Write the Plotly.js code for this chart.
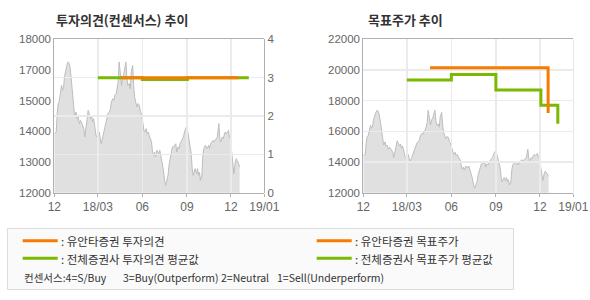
<!DOCTYPE html>
<html>
<head>
<meta charset="utf-8">
<script src="https://cdn.plot.ly/plotly-3.0.1.min.js"></script>
<style>
html,body{margin:0;padding:0;background:#fff;}
#chart{width:590px;height:300px;}
</style>
</head>
<body>
<div id="chart"></div>
<script>
// ---- data ----
const xTickVals = ['2017-12-01','2018-03-01','2018-06-01','2018-09-01','2018-12-01','2019-02-08'];
const xTickText = ['12','18/03','06','09','12','19/01'];
const xRange = ['2017-12-01','2019-02-08'];

// stock price (days since 2017-12-01)
const priceDays = [0,4,6,8,10,13,15,17,19,21,24,26,28,31,33,35,38,40,42,45,47,49,52,54,56,59,61,63,65,68,
70,72,75,77,79,81,83,86,88,90,93,95,97,100,102,104,107,109,111,114,116,118,121,123,125,128,130,132,134,137,
139,141,143,145,148,150,152,155,157,159,162,164,166,169,171,173,176,178,180,183,185,187,190,192,194,196,199,201,
203,205,207,209,212,214,216,218,221,223,225,228,230,232,235,237,239,242,244,246,249,251,253,256,258,260,263,265,267,269,
271,274,276,278,280,283,285,287,289,291,294,296,298,300,302,305,307,309,312,314,316,319,321,323,326,328,330,333,335,337,
340,342,344,347,349,351,353,356,358,360,362,364,367,369,371,374,376,378,381,383];
const priceValues = [14420,14490,15250,15660,15730,16270,16410,16200,16270,16750,17160,17230,17370,17300,17090,16550,16140,15590,15110,15310,
15040,15110,14840,14970,14900,14770,14630,14290,14700,15040,15380,15250,15040,15180,14900,15040,14840,14360,14290,14490,
14490,14220,14010,14290,14490,14560,14900,15110,15250,15310,15450,15730,15860,15790,16000,16070,16270,16550,17370,16750,
16410,16750,16820,17030,17370,16680,16410,16480,16270,16960,17230,16410,15930,15660,15520,15660,15590,15310,15250,14900,
14560,14490,14630,14420,14490,14360,14220,14080,
13670,13530,13670,13470,13740,13670,13600,13740,13400,13330,12990,12510,12300,12440,12710,13120,13400,13810,13880,13880,
13950,14010,13670,13880,13810,14010,14150,14220,14290,14490,14630,14770,14490,14220,13950,13600,12990,12710,12850,12990,
12780,12990,12710,12850,12510,12710,13530,13810,13950,13880,13810,13950,13810,14010,14080,14150,14080,14150,14220,14290,
14840,14220,14080,14290,14220,14360,14490,14420,14490,14560,14290,14220,13600,12990,12780,13260,13400,13330,13190,13060];

// investment opinion (consensus scale 0-4)
const opinionYuantaDates = ['2018-04-18','2018-12-17'];
const opinionYuantaValues = [3,3];
const opinionAvgDates = ['2018-03-01','2018-06-01','2018-06-01','2018-09-02','2018-09-02','2019-01-07'];
const opinionAvgValues = [3,3,2.95,2.95,3,3];

// target price
const targetYuantaDates = ['2018-04-18','2018-12-18','2018-12-18'];
const targetYuantaValues = [20150,20150,17200];
const targetAvgDates = ['2018-03-01','2018-06-01','2018-06-01','2018-09-01','2018-09-01','2018-12-03','2018-12-03','2019-01-07','2019-01-07'];
const targetAvgValues = [19350,19350,19700,19700,18700,18700,17700,17700,16500];

// axis ticks
const leftPriceTickVals = [12000,13260,14520,15780,17040,18300];
const leftPriceTickText = ['12000','13000','14000','15000','17000','18000'];
const opinionTicks = [0,1,2,3,4];
const targetTickVals = [12000,14000,16000,18000,20000,22000];
const targetTickText = ['12000','14000','16000','18000','20000','22000'];

const titleLeft = '투자의견(컨센서스) 추이';
const titleRight = '목표주가 추이';
const legendLabels = [': 유안타증권 투자의견', ': 전체증권사 투자의견 평균값', ': 유안타증권 목표주가', ': 전체증권사 목표주가 평균값'];
const consensusLabels = ['컨센서스:4=S/Buy', '3=Buy(Outperform)', '2=Neutral', '1=Sell(Underperform)'];

// ---- helpers ----
const base = Date.UTC(2017, 11, 1);
function dayToDate(d){ return new Date(base + d*86400000).toISOString().slice(0,10); }
const priceDates = priceDays.map(dayToDate);

const W = 590, H = 300;
const px = v => v / W;
const py = v => 1 - v / H;

const ORANGE = '#f77b00';
const GREEN = '#7bb800';
const FONT = 'Noto Sans CJK KR, Liberation Sans, sans-serif';
const TFONT = 'Liberation Sans, Arial, sans-serif';
const AXC = '#b0b0b0';
const GRID = '#ebebeb';
const LBL = '#666666';

const domLeft = [px(54.3), px(264.3)];
const domRight = [px(363.3), px(573.3)];
const domY = [1 - 192.7/H, 1 - 39.3/H];

const areaStyle = {type:'scatter', mode:'lines', line:{color:'#bdbdbd', width:1}, fill:'tozeroy', fillcolor:'#e0e0e0', hoverinfo:'skip'};

const traces = [
  Object.assign({x: priceDates, y: priceValues, xaxis:'x', yaxis:'y'}, areaStyle),
  {type:'scatter', mode:'lines', x: opinionAvgDates, y: opinionAvgValues, xaxis:'x2', yaxis:'y2', line:{color:GREEN, width:3}},
  {type:'scatter', mode:'lines', x: opinionYuantaDates, y: opinionYuantaValues, xaxis:'x2', yaxis:'y2', line:{color:ORANGE, width:3}},
  Object.assign({x: priceDates, y: priceValues, xaxis:'x3', yaxis:'y3'}, areaStyle),
  {type:'scatter', mode:'lines', x: targetAvgDates, y: targetAvgValues, xaxis:'x4', yaxis:'y4', line:{color:GREEN, width:3}},
  {type:'scatter', mode:'lines', x: targetYuantaDates, y: targetYuantaValues, xaxis:'x4', yaxis:'y4', line:{color:ORANGE, width:3}}
];

function baseX(dom, anchor){
  return {type:'date', domain:dom, anchor:anchor, range:xRange, tickmode:'array', tickvals:xTickVals, ticktext:xTickText,
    showgrid:false, zeroline:false, showline:true, linecolor:AXC, linewidth:1, mirror:true,
    ticks:'outside', ticklen:3, tickcolor:AXC, tickfont:{family:TFONT, size:12, color:LBL}, fixedrange:true};
}
function gridX(dom, anchor){
  return {type:'date', domain:dom, anchor:anchor, range:xRange, tickmode:'array', tickvals:xTickVals.slice(1,5),
    showticklabels:false, showgrid:true, gridcolor:GRID, gridwidth:1.5, zeroline:false, showline:false, ticks:'', fixedrange:true};
}

const layout = {
  width: W, height: H, autosize:false,
  margin:{l:0, r:0, t:0, b:0, pad:0},
  paper_bgcolor:'#ffffff', plot_bgcolor:'rgba(0,0,0,0)',
  showlegend:false,
  font:{family:FONT, color:LBL},
  xaxis: baseX(domLeft, 'y'),
  yaxis: {domain:domY, anchor:'x', range:[12000,18300], tickmode:'array', tickvals:leftPriceTickVals, ticktext:leftPriceTickText,
    showgrid:false, zeroline:false, showline:true, linecolor:AXC, linewidth:1, ticks:'', tickfont:{family:TFONT, size:11.5, color:LBL}, fixedrange:true},
  xaxis2: gridX(domLeft, 'y2'),
  yaxis2: {domain:domY, anchor:'x2', side:'right', range:[0,4], tickmode:'array', tickvals:opinionTicks,
    showgrid:true, gridcolor:GRID, gridwidth:1.5, zeroline:false, showline:true, linecolor:AXC, linewidth:1, ticks:'',
    tickfont:{family:TFONT, size:11.5, color:LBL}, fixedrange:true},
  xaxis3: baseX(domRight, 'y3'),
  yaxis3: {domain:domY, anchor:'x3', range:[12000,22000], tickmode:'array', tickvals:targetTickVals, ticktext:targetTickText,
    showgrid:false, zeroline:false, showline:true, linecolor:AXC, linewidth:1, ticks:'', tickfont:{family:TFONT, size:11.5, color:LBL}, fixedrange:true},
  xaxis4: gridX(domRight, 'y4'),
  yaxis4: {domain:domY, anchor:'x4', side:'right', range:[12000,22000], tickmode:'array', tickvals:targetTickVals,
    showticklabels:false, showgrid:true, gridcolor:GRID, gridwidth:1.5, zeroline:false, showline:true, linecolor:'#e6e6e6', linewidth:1, ticks:'', fixedrange:true},
  shapes: [
    {type:'rect', xref:'paper', yref:'paper', x0:px(7.5), x1:px(513.5), y0:py(289.5), y1:py(228.5), line:{color:'#dcdcdc', width:1}, fillcolor:'#fafafa', layer:'below'},
    {type:'line', xref:'paper', yref:'paper', x0:px(22.7), x1:px(57.7), y0:py(240.7), y1:py(240.7), line:{color:ORANGE, width:3}},
    {type:'line', xref:'paper', yref:'paper', x0:px(22.7), x1:px(57.7), y0:py(258.3), y1:py(258.3), line:{color:GREEN, width:3}},
    {type:'line', xref:'paper', yref:'paper', x0:px(316.7), x1:px(351.7), y0:py(240.7), y1:py(240.7), line:{color:ORANGE, width:3}},
    {type:'line', xref:'paper', yref:'paper', x0:px(316.7), x1:px(351.7), y0:py(258.3), y1:py(258.3), line:{color:GREEN, width:3}}
  ],
  annotations: [
    {text:'<b>'+titleLeft+'</b>', xref:'paper', yref:'paper', x:px(54), y:py(20), xanchor:'left', yanchor:'middle', showarrow:false, font:{family:FONT, size:13, color:'#333333'}},
    {text:'<b>'+titleRight+'</b>', xref:'paper', yref:'paper', x:px(366), y:py(20), xanchor:'left', yanchor:'middle', showarrow:false, font:{family:FONT, size:13, color:'#333333'}},
    {text:legendLabels[0], xref:'paper', yref:'paper', x:px(58.5), y:py(241), xanchor:'left', yanchor:'middle', showarrow:false, font:{family:FONT, size:11.5, color:'#333333'}},
    {text:legendLabels[1], xref:'paper', yref:'paper', x:px(58.5), y:py(258.5), xanchor:'left', yanchor:'middle', showarrow:false, font:{family:FONT, size:11.5, color:'#333333'}},
    {text:legendLabels[2], xref:'paper', yref:'paper', x:px(352.5), y:py(241), xanchor:'left', yanchor:'middle', showarrow:false, font:{family:FONT, size:11.5, color:'#333333'}},
    {text:legendLabels[3], xref:'paper', yref:'paper', x:px(352.5), y:py(258.5), xanchor:'left', yanchor:'middle', showarrow:false, font:{family:FONT, size:11.5, color:'#333333'}},
    {text:consensusLabels[0], xref:'paper', yref:'paper', x:px(22), y:py(277.5), xanchor:'left', yanchor:'middle', showarrow:false, font:{family:FONT, size:10.5, color:'#333333'}},
    {text:consensusLabels[1], xref:'paper', yref:'paper', x:px(121), y:py(277.5), xanchor:'left', yanchor:'middle', showarrow:false, font:{family:FONT, size:10.5, color:'#333333'}},
    {text:consensusLabels[2], xref:'paper', yref:'paper', x:px(219), y:py(277.5), xanchor:'left', yanchor:'middle', showarrow:false, font:{family:FONT, size:10.5, color:'#333333'}},
    {text:consensusLabels[3], xref:'paper', yref:'paper', x:px(275), y:py(277.5), xanchor:'left', yanchor:'middle', showarrow:false, font:{family:FONT, size:10.5, color:'#333333'}}
  ]
};

Plotly.newPlot('chart', traces, layout, {staticPlot:true, displayModeBar:false});
</script>
</body>
</html>
